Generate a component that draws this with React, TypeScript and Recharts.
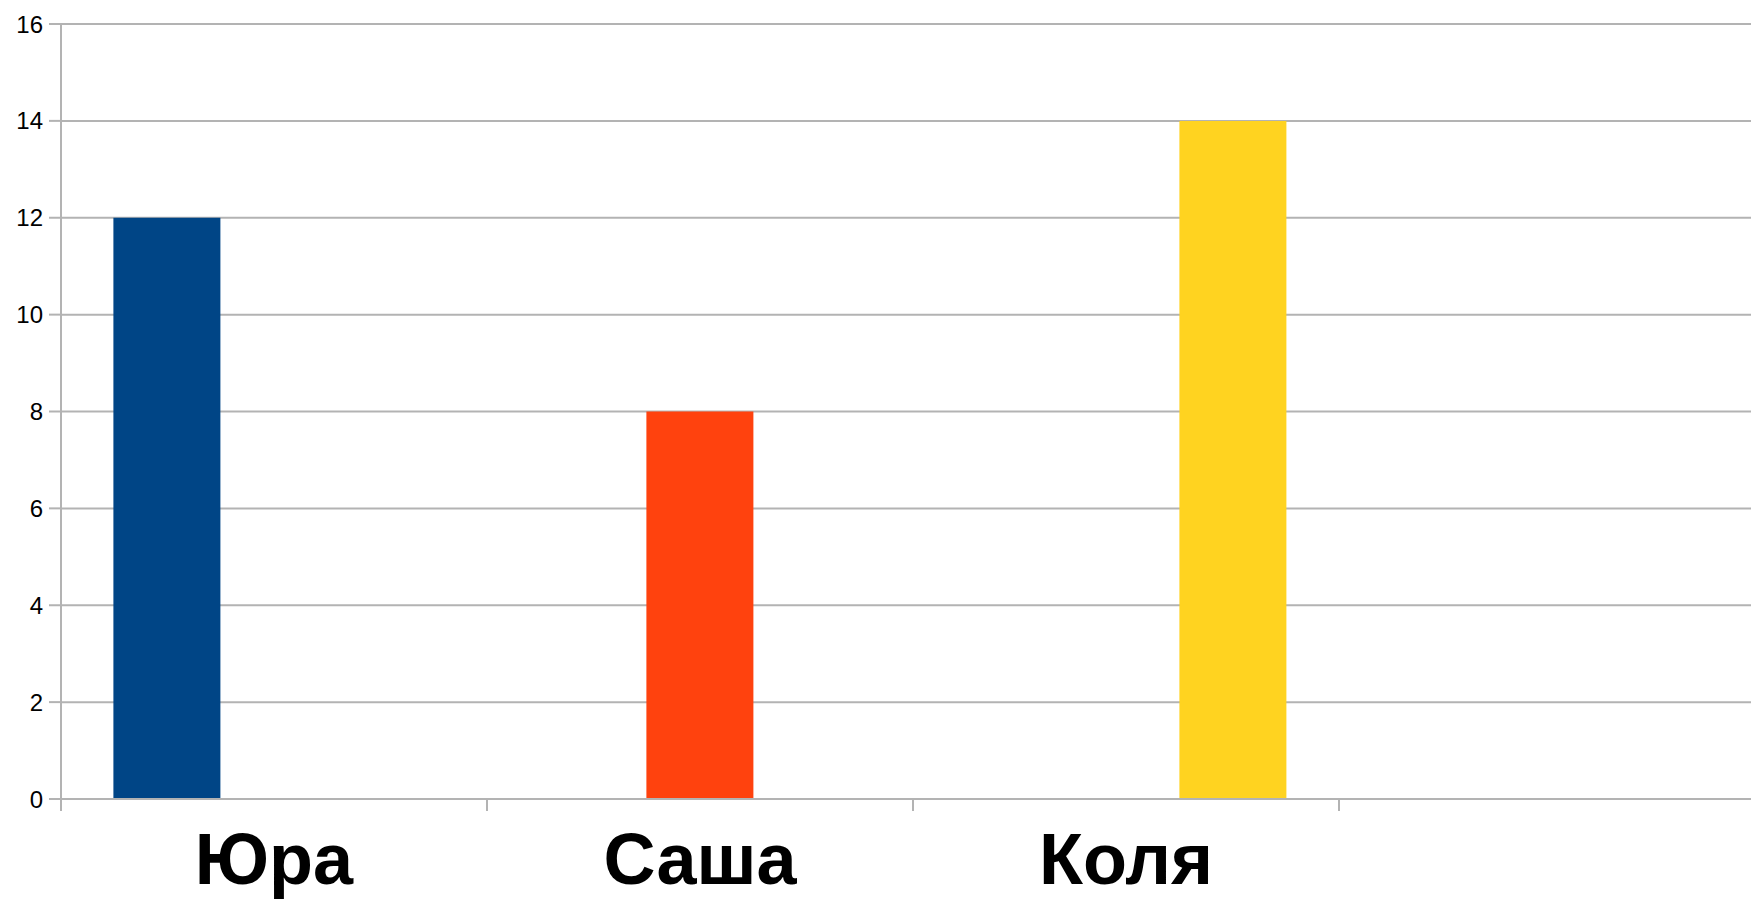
import React from 'react';
import { BarChart, Bar, XAxis, YAxis, CartesianGrid } from 'recharts';

const categories = ['Юра', 'Саша', 'Коля', ''];
const yuraValues: (number | null)[] = [12, null, null, null];
const sashaValues: (number | null)[] = [null, 8, null, null];
const kolyaValues: (number | null)[] = [null, null, 14, null];
const yTicks = [0, 2, 4, 6, 8, 10, 12, 14, 16];

const data = categories.map((name, i) => ({
  name,
  yura: yuraValues[i],
  sasha: sashaValues[i],
  kolya: kolyaValues[i],
}));

const AXIS_COLOR = '#b3b3b3';
const FONT = '"Liberation Sans", Arial, sans-serif';

const CategoryTick = (props: any) => {
  const { x, y, payload, width, visibleTicksCount } = props;
  const half =
    payload && typeof payload.offset === 'number' && payload.offset > 0
      ? payload.offset
      : width / (visibleTicksCount || 1) / 2;
  const bx = x - half;
  return (
    <g>
      <line x1={bx} y1={y} x2={bx} y2={y + 12} stroke={AXIS_COLOR} strokeWidth={2} />
      <text
        x={x}
        y={y + 34}
        dy="0.71em"
        textAnchor="middle"
        fill="#000"
        fontFamily={FONT}
        fontWeight="bold"
        fontSize={72}
      >
        {payload.value}
      </text>
    </g>
  );
};

export default function App() {
  return (
    <div
      style={{
        position: 'absolute',
        left: 0,
        top: 0,
        width: 1751,
        height: 899,
        overflow: 'hidden',
        background: '#fff',
      }}
    >
      <BarChart
        width={1780}
        height={899}
        data={data}
        margin={{ top: 24, right: 15, left: 0, bottom: 0 }}
        barGap={0}
        barCategoryGap="12.3%"
      >
        <CartesianGrid vertical={false} stroke={AXIS_COLOR} strokeWidth={2} />
        <XAxis
          dataKey="name"
          height={100}
          axisLine={{ stroke: AXIS_COLOR, strokeWidth: 2 }}
          tickLine={false}
          tickSize={0}
          tickMargin={0}
          interval={0}
          tick={<CategoryTick />}
        />
        <YAxis
          width={61}
          domain={[0, 16]}
          ticks={yTicks}
          interval={0}
          axisLine={{ stroke: AXIS_COLOR, strokeWidth: 2 }}
          tickLine={{ stroke: AXIS_COLOR, strokeWidth: 2 }}
          tickSize={12}
          tickMargin={6}
          tick={{ fill: '#000', fontSize: 24, fontFamily: FONT }}
        />
        <Bar dataKey="yura" fill="#004586" isAnimationActive={false} />
        <Bar dataKey="sasha" fill="#ff420e" isAnimationActive={false} />
        <Bar dataKey="kolya" fill="#ffd320" isAnimationActive={false} />
      </BarChart>
    </div>
  );
}
